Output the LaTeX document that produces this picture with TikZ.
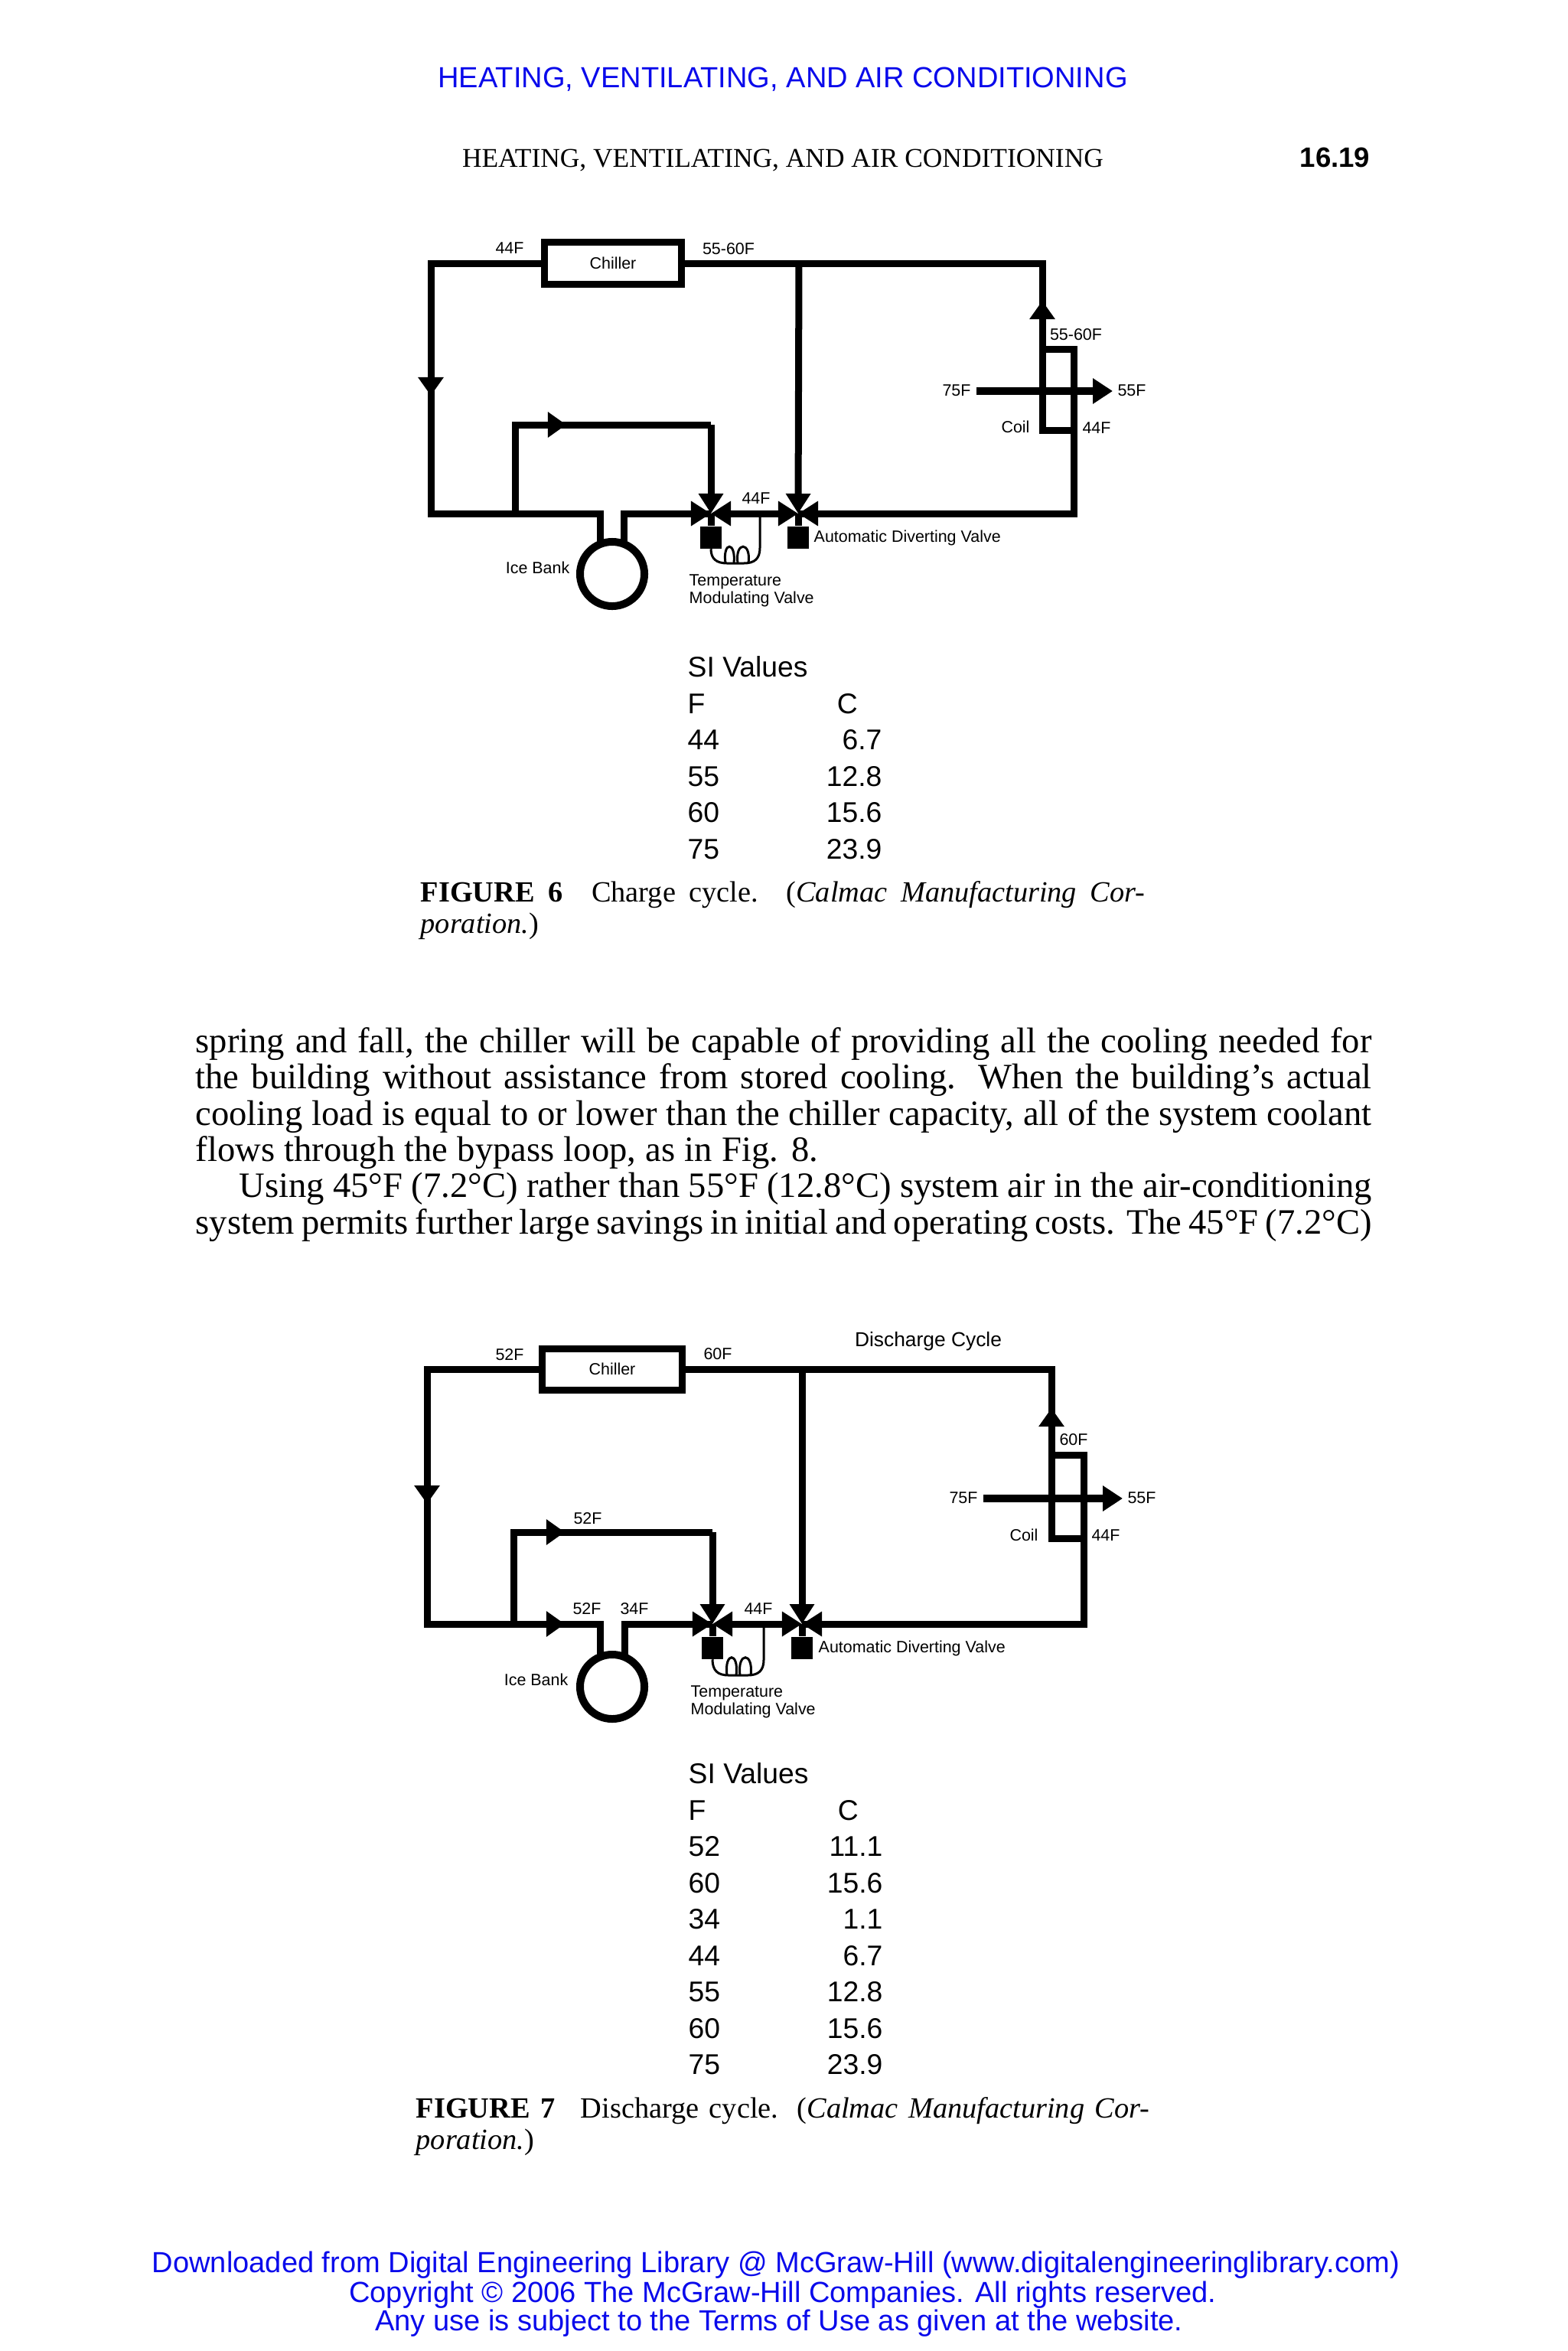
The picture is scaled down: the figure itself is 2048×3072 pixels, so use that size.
\documentclass[tikz,border=0pt]{standalone}
\usepackage{fontspec}
\usepackage{array}
\setmainfont{Liberation Sans}
\newfontfamily\timesface{Liberation Serif}
\usetikzlibrary{arrows.meta}
\definecolor{linkblue}{RGB}{10,10,235}
\begin{document}
\begin{tikzpicture}[x=0.01cm, y=-0.01cm, node distance=0.31cm, inner sep=0pt,
  pipe/.style={line width=0.09cm},
  chillerbox/.style={rectangle, draw, line width=0.09cm, minimum width=1.79cm, minimum height=0.54cm, font=\fontsize{6.1}{7.4}\selectfont},
  icetank/.style={circle, draw, line width=0.10cm, minimum size=0.84cm},
  actuator/.style={rectangle, fill=black, minimum width=0.28cm, minimum height=0.29cm},
  flowtip/.style={-{Triangle[length=0.24cm, width=0.32cm]}},
  valvetip/.style={-{Triangle[length=0.26cm, width=0.31cm]}},
  valvetwin/.style={{Triangle[length=0.26cm, width=0.31cm]}-{Triangle[length=0.26cm, width=0.31cm]}},
  airtip/.style={line width=0.10cm, -{Triangle[length=0.26cm, width=0.32cm]}},
  sense/.style={line width=0.03cm},
  lbl/.style={font=\fontsize{6.1}{6.6}\selectfont, align=left},
  blueline/.style={text=linkblue, font=\fontsize{10.82}{12}\selectfont},
  sitable/.style={anchor=north west, font=\fontsize{10.6}{13.5}\selectfont},
  bodyline/.style={anchor=base west, font=\timesface\fontsize{13.25}{13.5}\selectfont},
  captline/.style={anchor=base west, font=\timesface\fontsize{10.9}{13.5}\selectfont},
]
  \useasboundingbox (0,0) rectangle (2048,3072);

  % page header
  \node (bluehead) [blueline] at (1023,104) {HEATING, VENTILATING, AND AIR CONDITIONING};
  \node (runhead) [anchor=base, font=\timesface\fontsize{10.07}{12}\selectfont] at (1023,218) {HEATING, VENTILATING, AND AIR CONDITIONING};
  \node (pagenum) [anchor=base east, font=\bfseries\fontsize{10.4}{12}\selectfont] at (1791,218) {16.19};

  % figure 6
  \node (chillera) [chillerbox] at (801,344) {Chiller};
  \node (icebanka) [icetank] at (800,750) {};
  \coordinate (valveaone) at (929,671);
  \coordinate (valveatwo) at (1043,671);
  \node (actaone) [actuator, below of=valveaone] {};
  \node (actatwo) [actuator, below of=valveatwo] {};
  \coordinate (ltopa) at (563,344);
  \coordinate (lbota) at (563,671);
  \coordinate (larrowa) at (563,517);
  \coordinate (rtopa) at (1362,344);
  \coordinate (uparrowa) at (1362,393);
  \coordinate (coiltla) at (1362,456);
  \coordinate (coiltra) at (1403,456);
  \coordinate (coilbla) at (1362,562);
  \coordinate (coilbra) at (1403,562);
  \coordinate (rbota) at (1403,671);
  \coordinate (bypassa) at (673,671);
  \coordinate (bypasstla) at (673,555);
  \coordinate (bypasstra) at (929,555);
  \coordinate (bypassarrowa) at (740,555);
  \coordinate (stemlta) at (784,671);
  \coordinate (stemlba) at (784,708);
  \coordinate (stemrta) at (815,671);
  \coordinate (stemrba) at (815,708);
  \coordinate (teea) at (1044,344);
  \coordinate (airina) at (1276,511);
  \coordinate (airouta) at (1454,511);

  \draw[pipe] (chillera.west) -- (ltopa) -- (lbota) -- (stemlta) -- (stemlba);
  \draw[pipe, flowtip] (ltopa) -- (larrowa);
  \draw[pipe] (chillera.east) -- (rtopa) -- (coilbla) -- (coilbra);
  \draw[pipe, flowtip] (coiltla) -- (uparrowa);
  \draw[pipe] (coiltla) -- (coiltra) -- (rbota) -- (valveatwo);
  \draw[pipe, valvetip] (rbota) -- (valveatwo);
  \draw[pipe, valvetip] (teea) -- (valveatwo);
  \draw[pipe, valvetwin] (valveaone) -- (valveatwo);
  \draw[pipe] (bypassa) -- (bypasstla) -- (bypasstra);
  \draw[pipe, flowtip] (bypasstla) -- (bypassarrowa);
  \draw[pipe, valvetip] (bypasstra) -- (valveaone);
  \draw[pipe] (stemrba) -- (stemrta) -- (valveaone);
  \draw[pipe, valvetip] (stemrta) -- (valveaone);
  \draw[pipe] (valveaone) -- (actaone);
  \draw[pipe] (valveatwo) -- (actatwo);
  \draw[airtip] (airina) -- (airouta);
  \draw[sense] (actaone.south) .. controls (929,730) and (936,736) .. (950,736) -- (972,736) .. controls (986,736) and (993,730) .. (993,716) -- (993,671);
  \draw[sense] (948,736) .. controls (944,707) and (962,707) .. (959,736);
  \draw[sense] (964,736) .. controls (960,707) and (982,707) .. (978,736);

  \node (la44a) [lbl] at (666,324) {44F};
  \node (la55a) [lbl] at (952,325) {55-60F};
  \node (la55b) [lbl] at (1406,437) {55-60F};
  \node (la75) [lbl] at (1250,510) {75F};
  \node (la55c) [lbl] at (1479,510) {55F};
  \node (lacoil) [lbl] at (1327,558) {Coil};
  \node (la44b) [lbl] at (1433,559) {44F};
  \node (la44c) [lbl] at (988,651) {44F};
  \node (lavalve) [lbl, anchor=west] at (1063,703) {Automatic Diverting Valve};
  \node (laice) [lbl, anchor=east] at (745,742) {Ice Bank};
  \node (latemp) [lbl, anchor=north west] at (900,750) {Temperature\\Modulating Valve};

  \node (sitablea) [sitable] at (898,851) {\begin{tabular}{@{}p{1.81cm}@{}r@{}}
    \multicolumn{2}{@{}l@{}}{SI Values}\\
    F & \multicolumn{1}{@{}l@{}}{\hspace*{0.14cm}C}\\
    44 & 6.7\\
    55 & 12.8\\
    60 & 15.6\\
    75 & 23.9
  \end{tabular}};

  \node (captaa) [captline] at (549,1178) {\makebox[9.46cm][s]{{\bfseries FIGURE 6}\hspace{0.2cm} Charge cycle. ({\itshape Calmac Manufacturing Cor-}}};
  \node (captab) [captline] at (549,1219) {{\itshape poration.})};

  % running text
  \node (bodya) [bodyline] at (255,1375) {\makebox[15.36cm][s]{spring and fall, the chiller will be capable of providing all the cooling needed for}};
  \node (bodyb) [bodyline] at (255,1422) {\makebox[15.36cm][s]{the building without assistance from stored cooling. When the building’s actual}};
  \node (bodyc) [bodyline] at (255,1470) {\makebox[15.36cm][s]{cooling load is equal to or lower than the chiller capacity, all of the system coolant}};
  \node (bodyd) [bodyline] at (255,1517) {\makebox[8.13cm][s]{flows through the bypass loop, as in Fig. 8.}};
  \node (bodye) [bodyline] at (312,1564) {\makebox[14.79cm][s]{Using 45°F (7.2°C) rather than 55°F (12.8°C) system air in the air-conditioning}};
  \node (bodyf) [bodyline] at (255,1612) {\makebox[15.36cm][s]{system permits further large savings in initial and operating costs. The 45°F (7.2°C)}};

  % figure 7
  \node (cycletitle) [font=\fontsize{7.5}{9}\selectfont] at (1213,1753) {Discharge Cycle};
  \node (chillerb) [chillerbox, minimum width=1.83cm] at (800,1789) {Chiller};
  \node (icebankb) [icetank] at (800,2204) {};
  \coordinate (valvebone) at (931,2122);
  \coordinate (valvebtwo) at (1048,2122);
  \node (actbone) [actuator, below of=valvebone] {};
  \node (actbtwo) [actuator, below of=valvebtwo] {};
  \coordinate (ltopb) at (558,1789);
  \coordinate (lbotb) at (558,2122);
  \coordinate (larrowb) at (558,1965);
  \coordinate (rtopb) at (1374,1789);
  \coordinate (uparrowb) at (1374,1840);
  \coordinate (coiltlb) at (1374,1901);
  \coordinate (coiltrb) at (1416,1901);
  \coordinate (coilblb) at (1374,2010);
  \coordinate (coilbrb) at (1416,2010);
  \coordinate (rbotb) at (1416,2122);
  \coordinate (bypassb) at (671,2122);
  \coordinate (bypasstlb) at (671,2002);
  \coordinate (bypasstrb) at (931,2002);
  \coordinate (bypassarrowb) at (738,2002);
  \coordinate (lowarrowb) at (738,2122);
  \coordinate (stemltb) at (784,2122);
  \coordinate (stemlbb) at (784,2162);
  \coordinate (stemrtb) at (816,2122);
  \coordinate (stemrbb) at (816,2162);
  \coordinate (teeb) at (1048,1789);
  \coordinate (airinb) at (1285,1958);
  \coordinate (airoutb) at (1467,1958);

  \draw[pipe] (chillerb.west) -- (ltopb) -- (lbotb) -- (stemltb) -- (stemlbb);
  \draw[pipe, flowtip] (ltopb) -- (larrowb);
  \draw[pipe, flowtip] (lbotb) -- (lowarrowb);
  \draw[pipe] (chillerb.east) -- (rtopb) -- (coilblb) -- (coilbrb);
  \draw[pipe, flowtip] (coiltlb) -- (uparrowb);
  \draw[pipe] (coiltlb) -- (coiltrb) -- (rbotb) -- (valvebtwo);
  \draw[pipe, valvetip] (rbotb) -- (valvebtwo);
  \draw[pipe, valvetip] (teeb) -- (valvebtwo);
  \draw[pipe, valvetwin] (valvebone) -- (valvebtwo);
  \draw[pipe] (bypassb) -- (bypasstlb) -- (bypasstrb);
  \draw[pipe, flowtip] (bypasstlb) -- (bypassarrowb);
  \draw[pipe, valvetip] (bypasstrb) -- (valvebone);
  \draw[pipe] (stemrbb) -- (stemrtb) -- (valvebone);
  \draw[pipe, valvetip] (stemrtb) -- (valvebone);
  \draw[pipe] (valvebone) -- (actbone);
  \draw[pipe] (valvebtwo) -- (actbtwo);
  \draw[airtip] (airinb) -- (airoutb);
  \draw[sense] (actbone.south) .. controls (931,2183) and (938,2189) .. (952,2189) -- (977,2189) .. controls (991,2189) and (998,2183) .. (998,2169) -- (998,2122);
  \draw[sense] (950,2189) .. controls (946,2158) and (966,2158) .. (962,2189);
  \draw[sense] (967,2189) .. controls (963,2158) and (985,2158) .. (981,2189);

  \node (lb52a) [lbl] at (666,1770) {52F};
  \node (lb60a) [lbl] at (938,1769) {60F};
  \node (lb60b) [lbl] at (1403,1881) {60F};
  \node (lb75) [lbl] at (1259,1957) {75F};
  \node (lb55) [lbl] at (1492,1957) {55F};
  \node (lbcoil) [lbl] at (1338,2006) {Coil};
  \node (lb44a) [lbl] at (1445,2006) {44F};
  \node (lb52b) [lbl] at (768,1984) {52F};
  \node (lb52c) [lbl] at (767,2102) {52F};
  \node (lb34) [lbl] at (829,2102) {34F};
  \node (lb44b) [lbl] at (991,2102) {44F};
  \node (lbvalve) [lbl, anchor=west] at (1069,2154) {Automatic Diverting Valve};
  \node (lbice) [lbl, anchor=east] at (743,2195) {Ice Bank};
  \node (lbtemp) [lbl, anchor=north west] at (902,2202) {Temperature\\Modulating Valve};

  \node (sitableb) [sitable] at (899,2297) {\begin{tabular}{@{}p{1.81cm}@{}r@{}}
    \multicolumn{2}{@{}l@{}}{SI Values}\\
    F & \multicolumn{1}{@{}l@{}}{\hspace*{0.14cm}C}\\
    52 & 11.1\\
    60 & 15.6\\
    34 & 1.1\\
    44 & 6.7\\
    55 & 12.8\\
    60 & 15.6\\
    75 & 23.9
  \end{tabular}};

  \node (captba) [captline] at (543,2767) {\makebox[9.58cm][s]{{\bfseries FIGURE 7}\hspace{0.2cm} Discharge cycle. ({\itshape Calmac Manufacturing Cor-}}};
  \node (captbb) [captline] at (543,2808) {{\itshape poration.})};

  % page footer
  \node (foota) [blueline] at (1014,2960) {Downloaded from Digital Engineering Library @ McGraw-Hill (www.digitalengineeringlibrary.com)};
  \node (footb) [blueline] at (1023,2999) {Copyright © 2006 The McGraw-Hill Companies. All rights reserved.};
  \node (footc) [blueline] at (1018,3036) {Any use is subject to the Terms of Use as given at the website.};
\end{tikzpicture}
\end{document}
